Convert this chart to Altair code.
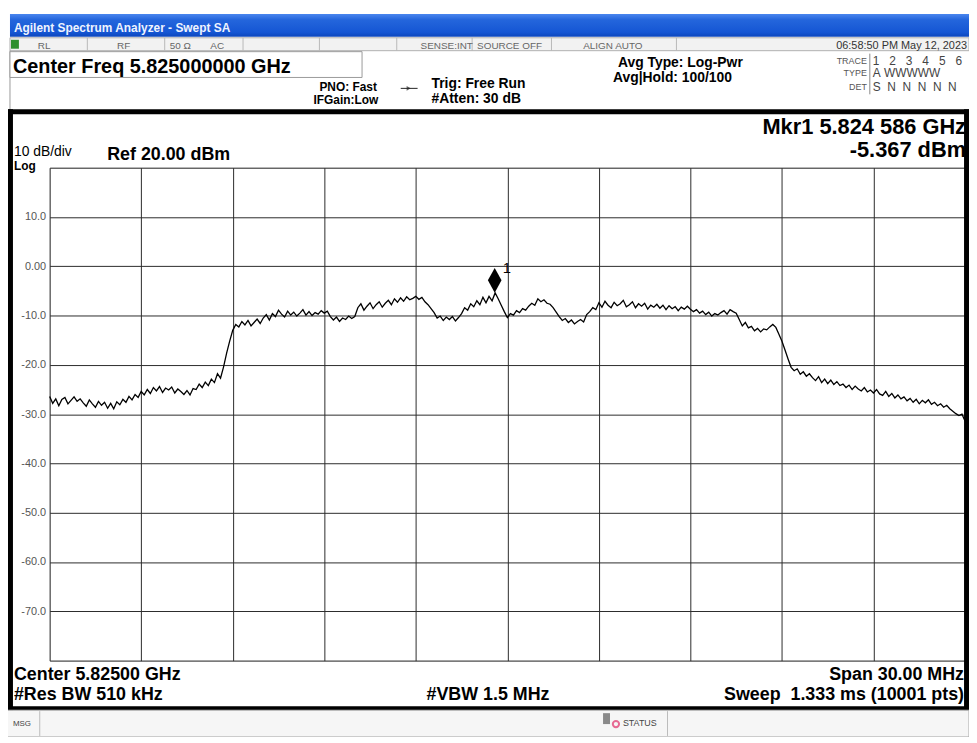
import altair as alt
import pandas as pd

START_GHZ = 5.810
STOP_GHZ = 5.840
level_dbm = [
    -26.4, -27.8, -26.9, -28.3, -27.0, -26.6, -27.9, -27.2, -26.5, -27.4,
    -26.9, -27.7, -28.4, -27.1, -27.9, -28.6, -27.4, -28.2, -27.6, -28.8,
    -27.8, -28.9, -27.5, -28.1, -27.0, -27.6, -26.4, -27.1, -26.0, -26.6,
    -25.4, -26.1, -25.0, -25.8, -24.6, -25.3, -24.4, -25.6, -24.7, -25.1,
    -24.5, -25.7, -24.9, -25.4, -26.0, -25.2, -26.1, -24.8, -25.0, -23.9,
    -24.6, -23.5, -24.2, -22.9, -23.6, -21.8, -22.7, -20.4, -17.6, -15.2,
    -13.0, -11.8, -12.3, -11.2, -11.9, -11.0, -12.1, -11.4, -10.7, -11.6,
    -10.5, -9.8, -10.9, -9.6, -10.2, -8.9, -9.7, -10.3, -9.1, -9.9,
    -9.3, -10.1, -9.5, -8.8, -9.9, -9.2, -10.0, -9.4, -9.7, -9.0,
    -9.5, -9.1, -10.2, -10.9, -10.3, -11.2, -10.5, -10.8, -10.1, -10.6,
    -10.2, -8.4, -7.6, -8.9, -8.1, -7.4, -8.6, -7.8, -7.2, -8.3,
    -7.5, -6.9, -7.8, -6.6, -7.3, -6.4, -7.1, -6.2, -6.8, -6.5,
    -6.1, -6.7, -6.3, -7.2, -7.8, -8.6, -9.4, -10.5, -10.1, -11.0,
    -10.3, -10.8, -10.2, -11.1, -10.4, -9.6, -8.4, -8.9, -7.6, -8.2,
    -7.0, -7.8, -6.3, -7.4, -6.1, -7.0, -5.4, -6.6, -7.9, -9.2,
    -10.4, -9.6, -9.9, -9.0, -9.4, -8.6, -8.9, -8.1, -7.5, -7.9,
    -6.6, -7.2, -6.8, -7.5, -7.7, -8.4, -9.3, -10.2, -11.0, -10.6,
    -11.4, -10.9, -11.7, -11.2, -10.8, -11.3, -9.8, -9.2, -8.4, -8.8,
    -7.4, -8.3, -7.1, -7.9, -8.4, -7.3, -8.0, -7.6, -6.9, -8.2,
    -7.8, -7.2, -8.4, -7.6, -8.1, -7.5, -8.7, -7.9, -8.3, -7.7,
    -8.5, -7.9, -8.8, -8.0, -8.6, -8.2, -9.0, -8.3, -8.7, -8.1,
    -8.7, -9.2, -8.8, -9.5, -9.1, -9.8, -9.3, -10.1, -9.6, -9.9,
    -9.4, -9.0, -9.7, -8.8, -9.2, -9.5, -10.8, -12.1, -11.4, -12.5,
    -12.2, -13.1, -12.6, -13.3, -12.7, -12.9, -12.3, -11.8, -12.4, -13.8,
    -15.2, -17.0, -18.8, -20.5, -21.2, -20.8, -21.9, -21.4, -22.3, -21.8,
    -22.6, -23.2, -22.4, -23.6, -22.9, -23.8, -23.1, -24.0, -23.4, -24.2,
    -23.9, -24.6, -24.1, -25.0, -24.3, -24.9, -25.3, -24.6, -25.5, -25.1,
    -25.7, -25.0, -25.9, -26.2, -25.4, -26.4, -25.8, -26.7, -26.1, -26.9,
    -26.5, -27.3, -26.8, -27.6, -27.0, -27.9, -27.2, -27.7, -27.1, -28.0,
    -27.6, -28.3, -27.9, -28.6, -28.2, -28.9, -29.4, -29.9, -30.3, -30.0,
    -31.4,
]
n_pts = len(level_dbm)
freq_ghz = [START_GHZ + (STOP_GHZ - START_GHZ) * i / (n_pts - 1) for i in range(n_pts)]

marker_freq_ghz = [5.824586]
marker_level_dbm = [-5.367]
marker_label = ["1"]

x_grid = [5.810, 5.813, 5.816, 5.819, 5.822, 5.825, 5.828, 5.831, 5.834, 5.837, 5.840]
y_grid = [-80, -70, -60, -50, -40, -30, -20, -10, 0, 10, 20]

trace = pd.DataFrame({"freq": freq_ghz, "level": level_dbm})
marker = pd.DataFrame({"freq": marker_freq_ghz, "level": marker_level_dbm, "lab": marker_label})

# ---------------- layout ----------------
OX, OY = 50, 166          # plot origin on the page
PW, PH = 923, 497
SANS = "Liberation Sans"
NB = "\u00a0"

xs = alt.Scale(domain=[START_GHZ, STOP_GHZ], nice=False, zero=False)
ys = alt.Scale(domain=[-80, 20], nice=False, zero=False)

one = alt.Chart(pd.DataFrame({"k": [0]}))


def T(s, px, py, size, weight="normal", align="left", color="#000", font=SANS):
    return one.mark_text(text=s, fontSize=size, fontWeight=weight, align=align,
                         baseline="alphabetic", color=color, font=font).encode(
        x=alt.value(px - OX), y=alt.value(py - OY))


def R(x1, y1, x2, y2, fill, stroke=None, sw=0):
    kw = dict(fill=fill)
    if stroke:
        kw.update(stroke=stroke, strokeWidth=sw)
    return one.mark_rect(**kw).encode(
        x=alt.value(x1 - OX), x2=alt.value(x2 - OX),
        y=alt.value(y1 - OY), y2=alt.value(y2 - OY))


def L(x1, y1, x2, y2, color="#000", sw=1):
    return one.mark_rule(color=color, strokeWidth=sw).encode(
        x=alt.value(x1 - OX), x2=alt.value(x2 - OX),
        y=alt.value(y1 - OY), y2=alt.value(y2 - OY))


title_grad = alt.Gradient(
    gradient="linear", x1=0, x2=0, y1=0, y2=1,
    stops=[alt.GradientStop(color="#4a86ee", offset=0),
           alt.GradientStop(color="#2466dc", offset=0.25),
           alt.GradientStop(color="#1556d4", offset=0.8),
           alt.GradientStop(color="#0c46bc", offset=1)])

deco = [
    L(0, 3, 977, 3, "#000", 1),
    one.mark_rect(fill=title_grad).encode(x=alt.value(10 - OX), x2=alt.value(977 - OX),
                                          y=alt.value(11 - OY), y2=alt.value(34 - OY)),
    T("Agilent Spectrum Analyzer - Swept SA", 14, 29, 12, "bold", color="#eef3ff"),
    # status row
    R(10, 35, 977, 48, "#f2f2f2", "#b0b0b0", 1),
    R(11, 37, 19, 46, "#2f8f2f"),
]
for sx in [88, 166, 245, 322, 400, 476, 556, 682]:
    deco.append(L(sx, 35, sx, 48, "#b8b8b8", 1))
for s, px in [("RL", 38), ("RF", 118), ("50 \u03a9", 171), ("AC", 212),
              ("SENSE:INT", 424), ("SOURCE OFF", 481), ("ALIGN AUTO", 588)]:
    deco.append(T(s, px, 46, 10, color="#666"))
deco += [
    T("06:58:50 PM May 12, 2023", 975, 46, 11, color="#333", align="right"),
    # header
    L(10, 48, 10, 108, "#999", 1),
    R(10, 49, 365, 75, "#ffffff", "#9a9a9a", 1),
    T("Center Freq 5.825000000 GHz", 13, 71, 20, "bold"),
    T("PNO: Fast", 322, 89, 12, "bold"),
    T("IFGain:Low", 316, 102, 12, "bold"),
    L(404, 86, 421, 86, "#222", 1),
    one.mark_point(shape="triangle-right", filled=True, size=22, color="#222").encode(
        x=alt.value(412 - OX), y=alt.value(86 - OY)),
    T("Trig: Free Run", 435, 86, 14, "bold"),
    T("#Atten: 30 dB", 435, 101, 14, "bold"),
    T("Avg Type: Log-Pwr", 623, 64, 14, "bold"),
    T("Avg|Hold: 100/100", 618, 80, 14, "bold"),
    T("TRACE", 874, 61, 9, color="#555", align="right"),
    T("TYPE", 874, 74, 9, color="#555", align="right"),
    T("DET", 874, 88, 9, color="#555", align="right"),
    L(877, 51, 877, 92, "#888", 1),
    T(NB.join(["1", "", "", "2", "", "", "3", "", "", "4", "", "", "5", "", "", "6"]).replace(NB * 3, NB * 3),
      880, 62, 12, color="#444"),
    T("A" + NB + "WWWWW", 880, 75, 12, color="#444"),
    T(("S" + NB * 2 + "N" + NB * 2 + "N" + NB * 2 + "N" + NB * 2 + "N" + NB * 2 + "N"), 880, 89, 12, color="#444"),
    # black frame of the screen
    R(7, 107, 977, 112, "#000"),
    R(7, 107, 13, 713, "#000"),
    R(972, 107, 977, 713, "#000"),
    R(7, 709, 977, 713, "#000"),
    # panel texts
    T("Mkr1 5.824 586 GHz", 974, 132, 22, "bold", align="right"),
    T("-5.367 dBm", 974, 155, 22, "bold", align="right"),
    T("10 dB/div", 14, 154, 14),
    T("Log", 14, 168, 12, "bold"),
    T("Ref 20.00 dBm", 108, 158, 18, "bold"),
    T("Center 5.82500 GHz", 14, 683, 18, "bold"),
    T("#Res BW 510 kHz", 14, 703, 18, "bold"),
    T("#VBW 1.5 MHz", 430, 703, 18, "bold"),
    T("Span 30.00 MHz", 972, 683, 18, "bold", align="right"),
    T("Sweep" + NB * 2 + "1.333 ms (10001 pts)", 972, 703, 18, "bold", align="right"),
    # message bar
    R(7, 713, 977, 740, "#f6f6f6", "#a8a8a8", 1),
    L(40, 714, 40, 739, "#bbb", 1),
    L(673, 714, 673, 739, "#bbb", 1),
    T("MSG", 13, 729, 8, color="#444"),
    R(608, 716, 615, 727, "#8a8a8a"),
    one.mark_point(shape="circle", filled=False, size=40, color="#e0306a", strokeWidth=2).encode(
        x=alt.value(621 - OX), y=alt.value(727 - OY)),
    T("STATUS", 628, 729, 9, color="#444"),
]

line = alt.Chart(trace).mark_line(color="#000", strokeWidth=1.3).encode(
    x=alt.X("freq:Q", scale=xs,
            axis=alt.Axis(values=x_grid, grid=True, gridColor="#2a2a2a", gridWidth=1, gridOpacity=1,
                          labels=False, ticks=False, domain=False, title=None)),
    y=alt.Y("level:Q", scale=ys,
            axis=alt.Axis(values=y_grid, grid=True, gridColor="#2a2a2a", gridWidth=1, gridOpacity=1,
                          ticks=False, domain=False, title=None, labelPadding=4,
                          labelFont=SANS, labelFontSize=11, labelColor="#555",
                          labelExpr="datum.value == 0 ? '0.00' : (datum.value == 20 || datum.value == -80) ? '' : datum.value + '.0'")),
)

diamond = alt.Chart(marker).mark_point(
    shape="M0,-1L0.55,0L0,1L-0.55,0Z", filled=True, size=625, color="#000", yOffset=-12.5, opacity=1
).encode(x=alt.X("freq:Q", scale=xs), y=alt.Y("level:Q", scale=ys))

mk_text = alt.Chart(marker).mark_text(
    align="left", baseline="alphabetic", dx=8, dy=-20, fontSize=15, font=SANS, color="#000"
).encode(x=alt.X("freq:Q", scale=xs), y=alt.Y("level:Q", scale=ys), text="lab:N")

chart = alt.layer(*deco, line, diamond, mk_text).properties(
    width=PW, height=PH,
    autosize=alt.AutoSizeParams(type="none"),
    padding={"left": 42, "top": 158, "right": 4, "bottom": 74},
).configure_view(stroke="#000", strokeWidth=2).configure(background="#ffffff")

chart.save("out.html", embed_options={"renderer": "svg", "actions": False})
